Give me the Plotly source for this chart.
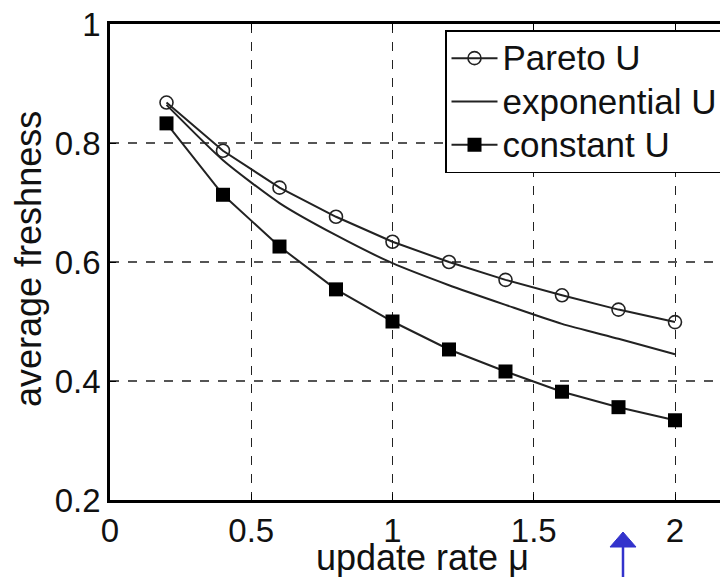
import plotly.graph_objects as go

mu = [0.2, 0.4, 0.6, 0.8, 1.0, 1.2, 1.4, 1.6, 1.8, 2.0]
pareto_u = [0.868, 0.787, 0.725, 0.676, 0.634, 0.600, 0.570, 0.544, 0.520, 0.499]
exponential_u = [0.864, 0.771, 0.699, 0.645, 0.598, 0.561, 0.528, 0.496, 0.471, 0.445]
constant_u = [0.833, 0.713, 0.626, 0.554, 0.500, 0.453, 0.416, 0.382, 0.356, 0.334]

series_names = ["Pareto U", "exponential U", "constant U"]

x_ticks = [0, 0.5, 1, 1.5, 2]
x_ticktext = ["0", "0.5", "1", "1.5", "2"]
y_ticks = [0.2, 0.4, 0.6, 0.8, 1.0]
y_ticktext = ["0.2", "0.4", "0.6", "0.8", "1"]

FONT = "Liberation Sans, Arial, Helvetica, sans-serif"
LINE = "#222222"

def legend_label(s):
    return f"<span style='font-size:35px'>{s}</span>"

fig = go.Figure()
fig.add_trace(go.Scatter(
    x=mu, y=pareto_u, name=legend_label(series_names[0]), mode="lines+markers",
    line=dict(color=LINE, width=2),
    marker=dict(symbol="circle-open", size=13, color=LINE, line=dict(width=1.6)),
))
fig.add_trace(go.Scatter(
    x=mu, y=exponential_u, name=legend_label(series_names[1]), mode="lines",
    line=dict(color=LINE, width=2, shape="spline", smoothing=0.6),
))
fig.add_trace(go.Scatter(
    x=mu, y=constant_u, name=legend_label(series_names[2]), mode="lines+markers",
    line=dict(color=LINE, width=2),
    marker=dict(symbol="square", size=14, color="black"),
))

# the page body has an 8px margin, so the figure is sized to end at the window edge
OFF = 8
PAGE_W, PAGE_H = 728, 577
W, H = PAGE_W - OFF, PAGE_H - OFF
PL, PT, PB = 110, 24, 500          # plot area edges in page pixels
L, T = PL - OFF, PT - OFF
B = H - (PB - OFF)
pw = W - L
ph = H - T - B
xmax = pw / 282.5

def px2paper(px, py):
    return ((px - OFF - L) / pw, (H - B - (py - OFF)) / ph)

lgx, lgy = px2paper(724, 30)

fig.update_layout(
    width=W, height=H,
    margin=dict(l=L, r=0, t=T, b=B, pad=0, autoexpand=False),
    paper_bgcolor="white", plot_bgcolor="white",
    font=dict(family=FONT, size=33, color="#111111"),
    showlegend=True,
    legend=dict(
        x=lgx, xanchor="right",
        y=lgy, yanchor="top",
        bgcolor="white", bordercolor="black", borderwidth=1.5,
        font=dict(family=FONT, size=31, color="#111111"),
        tracegroupgap=0, itemwidth=46,
    ),
    xaxis=dict(
        range=[0, xmax], automargin=False, ticklabeloverflow="allow",
        tickvals=x_ticks, ticktext=x_ticktext,
        showgrid=True, gridcolor="#222222", griddash="dash", gridwidth=1.4,
        showline=True, linecolor="black", linewidth=2.5, mirror="ticks",
        ticks="inside", ticklen=6, tickcolor="black", tickwidth=1.2,
        zeroline=False,
    ),
    yaxis=dict(
        range=[0.2, 1.0], automargin=False, ticklabeloverflow="allow",
        tickvals=y_ticks, ticktext=y_ticktext,
        showgrid=True, gridcolor="#555555", griddash="dash", gridwidth=1.6,
        showline=True, linecolor="black", linewidth=2.5,
        ticks="inside", ticklen=6, tickcolor="black", tickwidth=1.2,
        zeroline=False,
    ),
)

# axis titles as text
xt, yt = px2paper(422, 557)
fig.add_annotation(text="update rate μ", xref="paper", yref="paper",
                   x=xt, y=yt, xanchor="center", yanchor="middle",
                   showarrow=False, font=dict(family=FONT, size=36, color="#111111"))
yx, yy = px2paper(28, 259)
fig.add_annotation(text="average freshness", xref="paper", yref="paper",
                   x=yx, y=yy, xanchor="center", yanchor="middle", textangle=-90,
                   showarrow=False, font=dict(family=FONT, size=36, color="#111111"))

# blue arrow below the axis
ax_px, tip_px, base_px, half = 623, 532, 547, 13
tx, ty = px2paper(ax_px, tip_px)
lx, by = px2paper(ax_px - half, base_px)
rx, _ = px2paper(ax_px + half, base_px)
_, endy = px2paper(ax_px, 585)
fig.add_shape(type="line", xref="paper", yref="paper",
              x0=tx, x1=tx, y0=by, y1=endy,
              line=dict(color="#3333cc", width=2.5))
fig.add_shape(type="path", xref="paper", yref="paper",
              path=f"M {tx},{ty} L {lx},{by} L {rx},{by} Z",
              fillcolor="#3333cc", line=dict(color="#3333cc", width=1))

fig.write_html("out.html")
